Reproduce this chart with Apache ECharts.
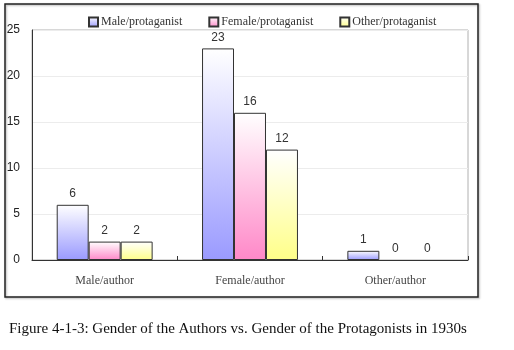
<!DOCTYPE html>
<html>
<head>
<meta charset="utf-8">
<script src="https://cdn.jsdelivr.net/npm/echarts@6/dist/echarts.min.js"></script>
<style>
  html, body { margin: 0; padding: 0; background: #fff; }
  #chart { width: 514px; height: 350px; }
</style>
</head>
<body>
<div id="chart"></div>
<script>
var categories = ['Male/author', 'Female/author', 'Other/author'];
var seriesNames = ['Male/protaganist', 'Female/protaganist', 'Other/protaganist'];
var maleValues = [6, 23, 1];
var femaleValues = [2, 16, 0];
var otherValues = [2, 12, 0];
var caption = 'Figure 4-1-3: Gender of the Authors vs. Gender of the Protagonists in 1930s';

function grad(c) {
  return new echarts.graphic.LinearGradient(0, 0, 0, 1, [
    { offset: 0, color: '#ffffff' },
    { offset: 1, color: c }
  ]);
}

var chart = echarts.init(document.getElementById('chart'), null, { renderer: 'canvas' });
var colors = ['#9a9aff', '#ff88c8', '#ffff88'];
var valueSets = [maleValues, femaleValues, otherValues];

chart.setOption({
  animation: false,
  graphic: [{
    type: 'rect',
    shape: { x: 5, y: 4, width: 473, height: 293 },
    style: { fill: 'none', stroke: '#222', lineWidth: 1.5, shadowColor: 'rgba(0,0,0,0.3)', shadowBlur: 2, shadowOffsetX: 1, shadowOffsetY: 1 },
    z: -1
  }],
  title: {
    text: caption,
    left: 4,
    top: 317,
    textStyle: { fontFamily: 'Liberation Serif, serif', fontSize: 15, fontWeight: 'normal', color: '#111' }
  },
  legend: {
    top: 11,
    left: 83,
    itemWidth: 9,
    itemHeight: 9,
    itemGap: 26,
    icon: 'rect',
    textStyle: { fontFamily: 'Liberation Serif, serif', fontSize: 12, color: '#333', padding: [0, 0, 0, -2] },
    data: seriesNames
  },
  grid: {
    left: 32, right: 46, top: 30, bottom: 90,
    show: true, borderColor: '#b0b0b0', borderWidth: 1
  },
  xAxis: {
    type: 'category',
    data: categories,
    axisLine: { lineStyle: { color: '#333', width: 1 } },
    axisTick: { show: true, inside: true, length: 4, lineStyle: { color: '#333' } },
    axisLabel: { fontFamily: 'Liberation Serif, serif', fontSize: 12, color: '#444', margin: 15 }
  },
  yAxis: {
    type: 'value',
    min: 0, max: 25, interval: 5,
    axisLine: { show: true, lineStyle: { color: '#333', width: 1 } },
    axisTick: { show: false },
    splitLine: { lineStyle: { color: '#ececec' } },
    axisLabel: { fontFamily: 'Liberation Sans, Arial, sans-serif', fontSize: 12, color: '#222', margin: 12 }
  },
  series: seriesNames.map(function(name, i) {
    return {
      name: name,
      type: 'bar',
      data: valueSets[i].map(function(v) {
        return v === 0 ? { value: v, itemStyle: { borderWidth: 0 } } : v;
      }),
      barGap: 0,
      barCategoryGap: '34%',
      itemStyle: { color: grad(colors[i]), borderColor: '#333', borderWidth: 1 },
      label: {
        show: true, position: 'top', distance: 5,
        fontFamily: 'Liberation Sans, Arial, sans-serif', fontSize: 12, color: '#333'
      }
    };
  })
});
window.addEventListener('resize', function() { chart.resize(); });
</script>
</body>
</html>
